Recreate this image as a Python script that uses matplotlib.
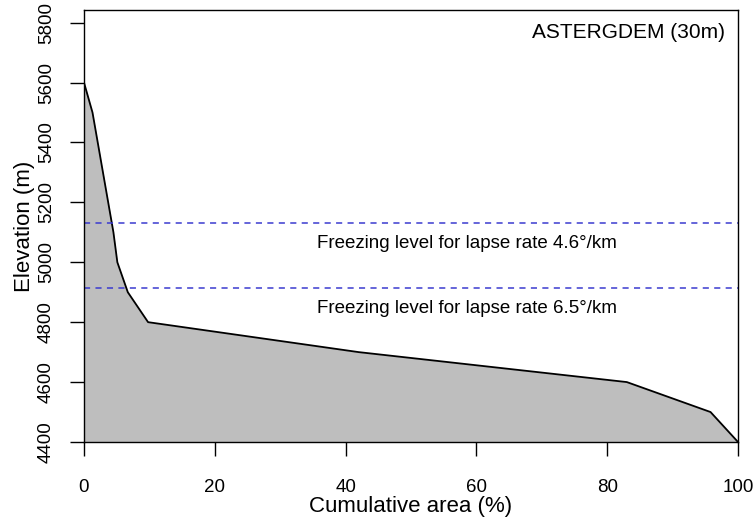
import matplotlib.pyplot as plt

plt.rcParams['font.family'] = ['Liberation Sans', 'DejaVu Sans']

# hypsometric curve: cumulative area (%) vs elevation (m)
cum_area = [0.0, 0.0, 1.3, 2.1, 2.9, 3.7, 4.5, 5.1, 6.7, 9.8, 42.0, 83.0, 95.8, 100.0]
elevation = [5710, 5600, 5500, 5400, 5300, 5200, 5100, 5000, 4900, 4800, 4700, 4600, 4500, 4400]

# freezing levels for the two lapse rates
freeze_levels = [5130, 4915]
freeze_labels = ['Freezing level for lapse rate 4.6°/km',
                 'Freezing level for lapse rate 6.5°/km']

x_ticks = [0, 20, 40, 60, 80, 100]
y_ticks = [4400, 4600, 4800, 5000, 5200, 5400, 5600, 5800]

fig = plt.figure(figsize=(7.56, 5.27), dpi=100)
ax = fig.add_axes([0.1111, 0.1613, 0.8651, 0.8197])

ax.fill_between(cum_area, elevation, 4400, color='#bebebe', lw=0)
ax.plot(cum_area, elevation, color='black', lw=1.3)

for lvl, lab in zip(freeze_levels, freeze_labels):
    ax.axhline(lvl, color='#3a3acf', lw=1.1, dashes=(4, 3.5))
    ax.text(58.6, lvl - 68, lab, ha='center', va='center', fontsize=13.5)

ax.text(98.0, 5767, 'ASTERGDEM (30m)', ha='right', va='center', fontsize=15)

ax.set_xlim(0, 100)
ax.set_ylim(4400, 5842)
ax.set_xticks(x_ticks)
ax.set_yticks(y_ticks)
ax.set_yticklabels([str(v) for v in y_ticks], rotation=90, va='center')
ax.tick_params(axis='both', direction='out', length=10, width=1.0, labelsize=13.5)
ax.tick_params(axis='x', pad=17)
ax.tick_params(axis='y', pad=11)
for s in ax.spines.values():
    s.set_linewidth(1.0)

ax.set_xlabel('Cumulative area (%)', fontsize=16, labelpad=0)
ax.set_ylabel('Elevation (m)', fontsize=16, labelpad=2)

fig.savefig('out.png', dpi=100)
